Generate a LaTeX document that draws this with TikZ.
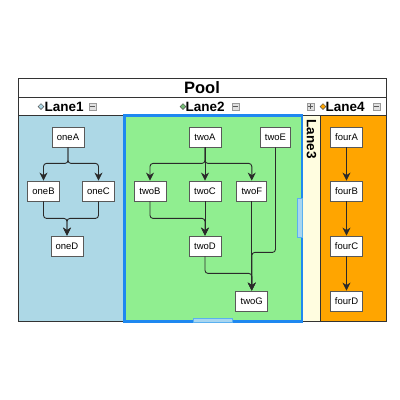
\documentclass[tikz,border=0pt]{standalone}
\usepackage{fontspec}
\setmainfont{Liberation Sans}
\usetikzlibrary{arrows.meta,calc}
\definecolor{laneone}{HTML}{ADD8E6}
\definecolor{lanetwo}{HTML}{90EE90}
\definecolor{lanethree}{HTML}{FFFDE0}
\definecolor{lanefour}{HTML}{FFA500}
\definecolor{selblue}{HTML}{1E88F0}
\definecolor{handlefill}{HTML}{A8D6F0}
\definecolor{handledraw}{HTML}{5AB0F0}
\definecolor{bordergray}{HTML}{333333}
\definecolor{edgegray}{HTML}{2A2A2A}
\begin{document}
\begin{tikzpicture}[x=1pt,y=-1pt,
  taskbox/.style={draw=black!65, fill=white, line width=0.8pt, minimum width=32pt, minimum height=20pt, inner sep=0pt, font=\fontsize{9.5}{11}\selectfont},
  flow/.style={draw=edgegray, line width=0.9pt, rounded corners=3pt, -{Stealth[length=8pt,width=8pt,inset=2.5pt]}},
  lanebody/.style={draw=bordergray, line width=0.8pt},
  lanetitle/.style={inner sep=0pt, font=\fontsize{13.5}{15}\selectfont\bfseries},
  pmbox/.style={draw=black!40, fill=black!12, line width=0.5pt, minimum width=7.5pt, minimum height=7.5pt, inner sep=0pt},
  gem/.style={draw=black!70, line width=0.4pt, minimum width=4.2pt, minimum height=4.2pt, inner sep=0pt, rotate=45}
]
\useasboundingbox (0,0) rectangle (400,400);
% pool frame
\fill[white] (18,78) rectangle (386,115.5);
\draw[lanebody, fill=laneone] (18,115.5) rectangle (123.5,321);
\draw[lanebody, fill=lanetwo] (123.5,115.5) rectangle (302.5,321);
\draw[lanebody, fill=lanethree] (302.5,115.5) rectangle (320.5,321);
\draw[lanebody, fill=lanefour] (320.5,115.5) rectangle (386,321);
\draw[lanebody] (18,97.5) -- (386,97.5);
\draw[lanebody] (18,78) rectangle (386,321);
\node[font=\fontsize{16.5}{18}\selectfont\bfseries] (pool) at (202,88) {Pool};

% lane headers
\node[gem, fill=laneone] (g1) at (41,106.5) {};
\node[lanetitle, anchor=west] (l1) at (44.5,106.5) {Lane1};
\node[pmbox] (m1) at (92.5,106.5) {};
\draw[black!65, line width=0.7pt] ($(m1)+(-2.2,0)$) -- ($(m1)+(2.2,0)$);

\node[gem, fill=lanetwo!80!black] (g2) at (183,106.5) {};
\node[lanetitle, anchor=west] (l2) at (185.5,106.5) {Lane2};
\node[pmbox] (m2) at (235.5,106.5) {};
\draw[black!65, line width=0.7pt] ($(m2)+(-2.2,0)$) -- ($(m2)+(2.2,0)$);

\node[pmbox] (p3) at (310.5,106.5) {};
\draw[black!65, line width=0.7pt] ($(p3)+(-2.2,0)$) -- ($(p3)+(2.2,0)$) ($(p3)+(0,-2.2)$) -- ($(p3)+(0,2.2)$);
\node[lanetitle, anchor=west, rotate=-90] (l3) at (311.5,119.5) {Lane3};

\node[gem, fill=lanefour] (g4) at (323,106.5) {};
\node[lanetitle, anchor=west] (l4) at (325.5,106.5) {Lane4};
\node[pmbox] (m4) at (376.5,106.5) {};
\draw[black!65, line width=0.7pt] ($(m4)+(-2.2,0)$) -- ($(m4)+(2.2,0)$);

% selection of Lane2
\draw[selblue, line width=2.5pt] (124.5,115.5) rectangle (302,321.5);
\draw[handledraw, fill=handlefill, line width=0.8pt] (297.5,198) rectangle (302.8,237);
\draw[handledraw, fill=handlefill, line width=0.8pt] (193,318.5) rectangle (232,322.5);

% Lane1 tasks
\node[taskbox] (oneA) at (68,137) {oneA};
\node[taskbox] (oneB) at (43.5,191) {oneB};
\node[taskbox] (oneC) at (98.5,191) {oneC};
\node[taskbox] (oneD) at (67,246) {oneD};
% Lane2 tasks
\node[taskbox] (twoA) at (205,137) {twoA};
\node[taskbox, minimum width=30pt] (twoE) at (275.5,137) {twoE};
\node[taskbox] (twoB) at (150,191) {twoB};
\node[taskbox] (twoC) at (205,191) {twoC};
\node[taskbox, minimum width=30pt] (twoF) at (251.8,191) {twoF};
\node[taskbox] (twoD) at (205,246) {twoD};
\node[taskbox] (twoG) at (251.8,301) {twoG};
% Lane4 tasks
\node[taskbox] (fourA) at (346.5,137) {fourA};
\node[taskbox] (fourB) at (346.5,191) {fourB};
\node[taskbox] (fourC) at (346.5,246) {fourC};
\node[taskbox] (fourD) at (346.5,301) {fourD};

% Lane1 flows
\draw[flow] (oneA.south) -- ++(0,16) -| (oneB.north);
\draw[flow] (oneA.south) -- ++(0,16) -| (oneC.north);
\draw[flow] (oneB.south) -- ++(0,17) -| (oneD.north);
\draw[flow] (oneC.south) -- ++(0,17) -| (oneD.north);
% Lane2 flows
\draw[flow] (twoA.south) -- ++(0,16) -| (twoB.north);
\draw[flow] (twoA.south) -- (twoC.north);
\draw[flow] (twoA.south) -- ++(0,16) -| (twoF.north);
\draw[flow] (twoB.south) -- ++(0,17) -| (twoD.north);
\draw[flow] (twoC.south) -- (twoD.north);
\draw[flow] (twoE.south) -- ++(0,105) -| (twoG.north);
\draw[flow] (twoF.south) -- (twoG.north);
\draw[flow] (twoD.south) -- ++(0,17) -| (twoG.north);
% Lane4 flows
\draw[flow] (fourA) -- (fourB);
\draw[flow] (fourB) -- (fourC);
\draw[flow] (fourC) -- (fourD);
\end{tikzpicture}
\end{document}
